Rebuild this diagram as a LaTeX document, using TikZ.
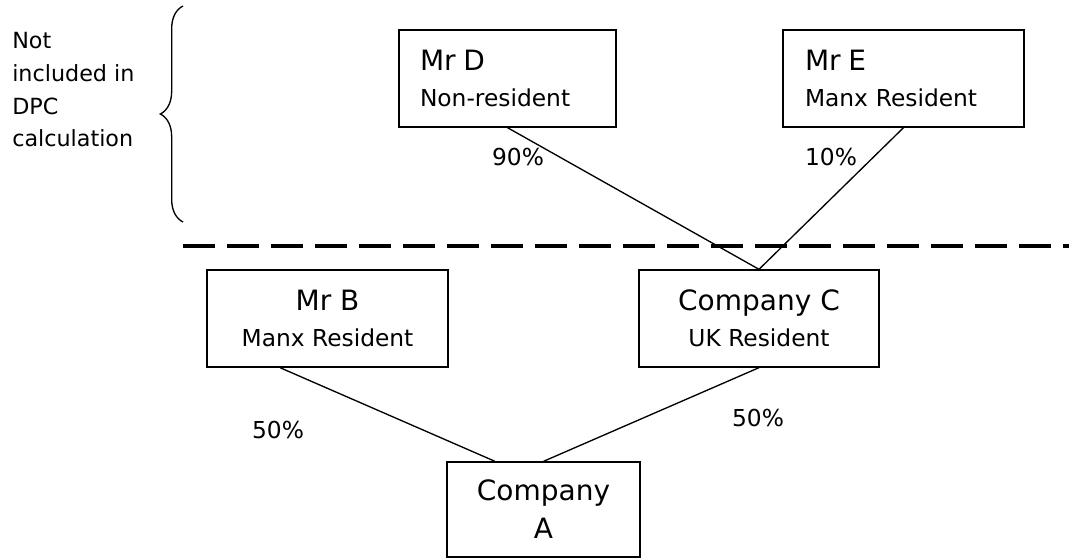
\documentclass[tikz,border=0pt]{standalone}
\usepackage{fontspec}
\setmainfont{DejaVu Sans}
\usetikzlibrary{decorations.pathreplacing}
\begin{document}
\begin{tikzpicture}[x=0.75pt,y=0.75pt]
		\tikzstyle{every node}+=[inner sep=0pt, font=\fontsize{17.5}{27}\selectfont]
		\tikzstyle{holder}=[draw, line width=1pt, align=center, minimum height=72.75pt]
		\tikzstyle{share}=[line width=1pt]
		\useasboundingbox (0,0) rectangle (1069,-559);
		\node [align=left, anchor=west, font=\fontsize{16.7}{24.5}\selectfont] (note) at (12,-90) {Not\\included in\\DPC\\calculation};
		\coordinate (bracetop) at (183,-6);
		\coordinate (bracebot) at (183,-222);
		\draw [line width=1pt, decorate, decoration={brace, amplitude=17pt}] (bracebot) -- (bracetop);
		\node [holder, minimum width=162.75pt, text width=131.25pt, align=left] (mrd) at (507.5,-78.5) {{\fontsize{21}{27}\selectfont Mr D}\\Non-resident};
		\node [holder, minimum width=180.75pt, text width=147.75pt, align=left] (mre) at (903.5,-78.5) {{\fontsize{21}{27}\selectfont Mr E}\\Manx Resident};
		\node [holder, minimum width=180.75pt] (mrb) at (327.5,-318.5) {{\fontsize{21}{27}\selectfont Mr B}\\Manx Resident};
		\node [holder, minimum width=180pt] (compc) at (759,-318.5) {{\fontsize{21}{27}\selectfont Company C}\\UK Resident};
		\node [holder, minimum width=144.75pt, minimum height=71.25pt, font=\fontsize{21}{28.5}\selectfont] (compa) at (543.5,-509.5) {Company\\A};
		% dividing line
		\coordinate (cutl) at (183,-246);
		\coordinate (cutr) at (1069,-246);
		\draw [line width=3pt, dash pattern=on 24pt off 9pt] (cutl) -- (cutr);
		% shareholdings
		\draw [share] (mrd.south) -- (compc.north);
		\draw [share] (mre.south) -- (compc.north);
		\draw [share] ([xshift=-35.6pt]mrb.south) -- ([xshift=-36.4pt]compa.north);
		\draw [share] (compc.south) -- (compa.north);
		\node (pd) at (518,-157) {90\%};
		\node (pe) at (831,-157) {10\%};
		\node (pb) at (278,-430) {50\%};
		\node (pc) at (758,-418) {50\%};
\end{tikzpicture}
\end{document}
